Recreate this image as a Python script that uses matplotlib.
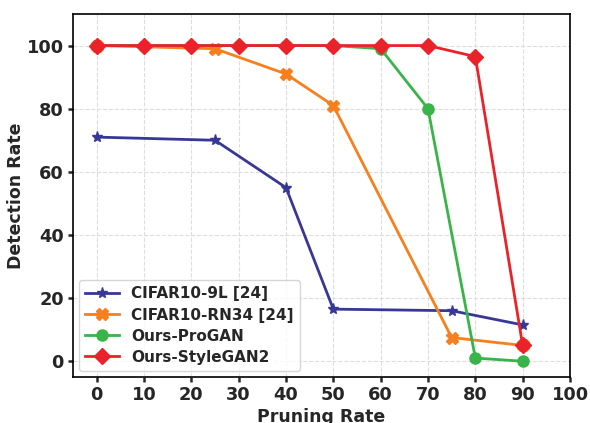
import matplotlib
matplotlib.use("Agg")
import matplotlib.pyplot as plt

# pruning rates (%) and detection rates (%)
x_9l = [0, 25, 40, 50, 75, 90]
y_9l = [71, 70, 55, 16.5, 16, 11.5]

x_rn34 = [0, 25, 40, 50, 75, 90]
y_rn34 = [100, 99, 91, 81, 7.5, 5]

x_progan = [0, 10, 20, 30, 40, 50, 60, 70, 80, 90]
y_progan = [100, 100, 100, 100, 100, 100, 99, 80, 1, 0]

x_stylegan = [0, 10, 20, 30, 40, 50, 60, 70, 80, 90]
y_stylegan = [100, 100, 100, 100, 100, 100, 100, 100, 96.5, 5]

xticks = [0, 10, 20, 30, 40, 50, 60, 70, 80, 90, 100]
yticks = [0, 20, 40, 60, 80, 100]

plt.rcParams["font.family"] = "DejaVu Sans"
plt.rcParams["font.weight"] = "bold"
text_col = "#262626"

fig = plt.figure(figsize=(5.9, 4.23), dpi=100)
ax = fig.add_axes([73 / 590, 46 / 423, 497 / 590, 363 / 423])

ax.plot(x_9l, y_9l, color="#373895", marker="*", markersize=8,
        linewidth=2, label="CIFAR10-9L [24]")
ax.plot(x_rn34, y_rn34, color="#f77f1e", marker="X", markersize=8,
        linewidth=2, label="CIFAR10-RN34 [24]")
ax.plot(x_progan, y_progan, color="#38b449", marker="o", markersize=8,
        linewidth=2, label="Ours-ProGAN")
ax.plot(x_stylegan, y_stylegan, color="#ea2229", marker="D", markersize=8,
        linewidth=2, label="Ours-StyleGAN2")

ax.set_xlim(-5, 100)
ax.set_ylim(-5, 110)
ax.set_xticks(xticks)
ax.set_yticks(yticks)
ax.tick_params(labelsize=12.8, colors=text_col, length=3.5, width=1.8,
               pad=3, labelcolor=text_col)
for lab in ax.get_xticklabels() + ax.get_yticklabels():
    lab.set_fontweight("bold")

ax.grid(True, linestyle="--", color="#dddddd", linewidth=0.8)
for sp in ax.spines.values():
    sp.set_color("black")
    sp.set_linewidth(1.2)

ax.set_xlabel("Pruning Rate", fontsize=12.5, fontweight="bold", color=text_col)
ax.set_ylabel("Detection Rate", fontsize=12.5, fontweight="bold", color=text_col)
ax.xaxis.set_label_coords(0.5, -0.085)
ax.yaxis.set_label_coords(-0.096, 0.5)

leg = ax.legend(loc="lower left", prop={"weight": "bold", "size": 11},
                framealpha=0.8, handlelength=2.2, labelspacing=0.4,
                borderaxespad=0.4)
for t in leg.get_texts():
    t.set_color(text_col)

fig.savefig("out.png", dpi=100)
